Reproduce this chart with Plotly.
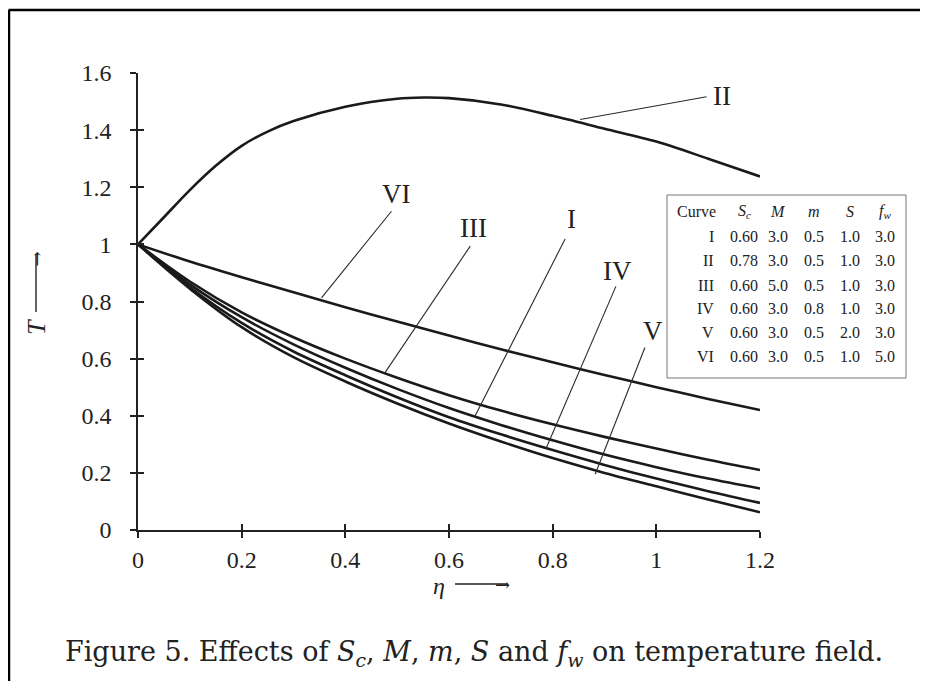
import plotly.graph_objects as go

# ---- data ----
eta = [0.0, 0.1, 0.2, 0.3, 0.4, 0.5, 0.6, 0.7, 0.8, 0.9, 1.0, 1.1, 1.2]
eta_II = [0.0, 0.05, 0.1, 0.15, 0.2, 0.25, 0.3, 0.4, 0.5, 0.55, 0.6, 0.7, 0.8, 0.9, 1.0, 1.1, 1.2]
T_II = [1.0, 1.095, 1.19, 1.275, 1.345, 1.395, 1.432, 1.482, 1.51, 1.514, 1.512, 1.49, 1.45, 1.405, 1.36, 1.30, 1.238]
T_VI = [1.0, 0.94, 0.885, 0.832, 0.78, 0.73, 0.681, 0.633, 0.587, 0.543, 0.50, 0.459, 0.42]
T_III = [1.0, 0.87, 0.762, 0.675, 0.60, 0.533, 0.472, 0.418, 0.37, 0.326, 0.285, 0.246, 0.21]
T_I = [1.0, 0.86, 0.745, 0.65, 0.568, 0.494, 0.427, 0.368, 0.314, 0.264, 0.22, 0.18, 0.145]
T_IV = [1.0, 0.85, 0.725, 0.625, 0.542, 0.465, 0.395, 0.335, 0.28, 0.228, 0.18, 0.136, 0.095]
T_V = [1.0, 0.845, 0.71, 0.605, 0.52, 0.443, 0.373, 0.31, 0.252, 0.20, 0.153, 0.107, 0.062]

x_ticks = [0, 0.2, 0.4, 0.6, 0.8, 1.0, 1.2]
x_tick_text = ["0", "0.2", "0.4", "0.6", "0.8", "1", "1.2"]
y_ticks = [0, 0.2, 0.4, 0.6, 0.8, 1.0, 1.2, 1.4, 1.6]
y_tick_text = ["0", "0.2", "0.4", "0.6", "0.8", "1", "1.2", "1.4", "1.6"]

table_header = ["Curve", "<i>S</i><sub><i>c</i></sub>", "<i>M</i>", "<i>m</i>", "<i>S</i>", "<i>f</i><sub><i>w</i></sub>"]
table_curves = ["I", "II", "III", "IV", "V", "VI"]
table_Sc = ["0.60", "0.78", "0.60", "0.60", "0.60", "0.60"]
table_M = ["3.0", "3.0", "5.0", "3.0", "3.0", "3.0"]
table_m = ["0.5", "0.5", "0.5", "0.8", "0.5", "0.5"]
table_S = ["1.0", "1.0", "1.0", "1.0", "2.0", "1.0"]
table_fw = ["3.0", "3.0", "3.0", "3.0", "3.0", "5.0"]

# curve labels: (name, label x, label y, leader start, leader end) in data units
curve_labels = [
    ("II", 1.105, 1.519, (1.097, 1.517), (0.853, 1.437)),
    ("VI", 0.499, 1.175, (0.489, 1.116), (0.354, 0.813)),
    ("III", 0.647, 1.058, (0.641, 0.994), (0.4765, 0.551)),
    ("I", 0.837, 1.089, (0.824, 1.019), (0.650, 0.398)),
    ("IV", 0.925, 0.908, (0.922, 0.853), (0.788, 0.289)),
    ("V", 0.993, 0.698, (0.978, 0.639), (0.882, 0.195)),
]

# page is offset by the 8px body margin; figure is sized to fill the rest
OFF = 8
W, H = 928 - OFF, 681 - OFF
L, R, T, B = 138, 760, 73, 530          # plot area in page pixels
SERIF = "Liberation Serif, DejaVu Serif, serif"
INK = "#222222"


def px(xp):
    return (xp - L) / (R - L)


def py(yp):
    return (B - yp) / (B - T)


fig = go.Figure()
line_style = dict(color="#1a1a1a", width=2.6, shape="spline", smoothing=0.9)
for name, xs, ys in [("II", eta_II, T_II), ("VI", eta, T_VI), ("III", eta, T_III),
                     ("I", eta, T_I), ("IV", eta, T_IV), ("V", eta, T_V)]:
    fig.add_trace(go.Scatter(x=xs, y=ys, mode="lines", name=name, line=line_style,
                             showlegend=False, hoverinfo="skip"))

# invisible trace on overlay axes (inside ticks -> crossing ticks)
fig.add_trace(go.Scatter(x=[0], y=[0], xaxis="x2", yaxis="y2", mode="markers",
                         marker=dict(opacity=0), showlegend=False, hoverinfo="skip"))

axis_common = dict(showgrid=False, zeroline=False, showline=True, linecolor=INK,
                   linewidth=1.6, ticks="outside", ticklen=6, tickwidth=1.6,
                   tickcolor=INK, tickfont=dict(family=SERIF, size=24, color=INK))

fig.update_layout(
    width=W, height=H,
    margin=dict(l=L - OFF, r=928 - R, t=T - OFF, b=681 - B, pad=0),
    paper_bgcolor="white", plot_bgcolor="white",
    xaxis=dict(range=[0, 1.2], tickvals=x_ticks, ticktext=x_tick_text,
               ticklabelstandoff=1, **axis_common),
    yaxis=dict(range=[0, 1.6], tickvals=y_ticks, ticktext=y_tick_text,
               ticklabelstandoff=14, **axis_common),
    xaxis2=dict(range=[0, 1.2], overlaying="x", side="bottom", tickvals=x_ticks,
                showticklabels=False, showgrid=False, zeroline=False, showline=False,
                ticks="inside", ticklen=6, tickwidth=1.6, tickcolor=INK),
    yaxis2=dict(range=[0, 1.6], overlaying="y", side="left", tickvals=y_ticks,
                showticklabels=False, showgrid=False, zeroline=False, showline=False,
                ticks="inside", ticklen=6, tickwidth=1.6, tickcolor=INK),
)

shapes = []
annotations = []

# leader lines + labels
for name, lx, ly, (sx, sy), (ex, ey) in curve_labels:
    shapes.append(dict(type="line", xref="x", yref="y", x0=sx, y0=sy, x1=ex, y1=ey,
                       line=dict(color="#2a2a2a", width=1.1)))
    anchor = "left" if name == "II" else "center"
    annotations.append(dict(x=lx, y=ly, xref="x", yref="y", text=name, showarrow=False,
                            xanchor=anchor, yanchor="middle",
                            font=dict(family=SERIF, size=27, color=INK)))

# outer frame (top + left)
shapes.append(dict(type="line", xref="paper", yref="paper", x0=px(OFF + 0.5), y0=py(10),
                   x1=px(928), y1=py(10), line=dict(color="black", width=2.5)))
shapes.append(dict(type="line", xref="paper", yref="paper", x0=px(OFF + 1), y0=py(10),
                   x1=px(OFF + 1), y1=py(681), line=dict(color="black", width=2.5)))

# table box
shapes.append(dict(type="rect", xref="paper", yref="paper", x0=px(667), y0=py(195),
                   x1=px(906), y1=py(378), line=dict(color="#777777", width=1),
                   fillcolor="white", layer="above"))

col_x = [None, 744, 778, 814, 850, 885]
row_y = [236.7, 260.7, 285, 308.3, 332.7, 356.7]
tfont = dict(family=SERIF, size=16, color=INK)
# header
annotations.append(dict(x=px(696), y=py(211.7), xref="paper", yref="paper",
                        text=table_header[0], showarrow=False, xanchor="center",
                        yanchor="middle", font=tfont))
for j in range(1, 6):
    annotations.append(dict(x=px(col_x[j]), y=py(211.7), xref="paper", yref="paper",
                            text=table_header[j], showarrow=False, xanchor="center",
                            yanchor="middle", font=tfont))
cols = [table_Sc, table_M, table_m, table_S, table_fw]
for i, cname in enumerate(table_curves):
    annotations.append(dict(x=px(716), y=py(row_y[i]), xref="paper", yref="paper",
                            text=cname, showarrow=False, xanchor="right",
                            yanchor="middle", font=tfont))
    for j, col in enumerate(cols):
        annotations.append(dict(x=px(col_x[j + 1]), y=py(row_y[i]), xref="paper",
                                yref="paper", text=col[i], showarrow=False,
                                xanchor="center", yanchor="middle", font=tfont))

# x-axis title: eta with long arrow
annotations.append(dict(x=px(447), y=py(586), xref="paper", yref="paper",
                        text="<i>η</i>", showarrow=False, xanchor="right",
                        yanchor="middle", font=dict(family=SERIF, size=24, color=INK)))
shapes.append(dict(type="line", xref="paper", yref="paper", x0=px(455), y0=py(584),
                   x1=px(508), y1=py(584), line=dict(color=INK, width=1.4)))
annotations.append(dict(x=px(512), y=py(584), xref="paper", yref="paper",
                        text="→", showarrow=False, xanchor="right", yanchor="middle",
                        font=dict(family="DejaVu Serif", size=18, color=INK)))

# y-axis title: T with long arrow (rotated)
annotations.append(dict(x=px(36), y=py(327), xref="paper", yref="paper",
                        text="<i>T</i>", showarrow=False, textangle=-90,
                        xanchor="center", yanchor="middle",
                        font=dict(family=SERIF, size=26, color=INK)))
shapes.append(dict(type="line", xref="paper", yref="paper", x0=px(36), y0=py(312),
                   x1=px(36), y1=py(254), line=dict(color=INK, width=1.4)))
annotations.append(dict(x=px(36), y=py(250), xref="paper", yref="paper",
                        text="→", showarrow=False, textangle=-90, xanchor="center",
                        yanchor="top", font=dict(family="DejaVu Serif", size=18, color=INK)))

# caption
annotations.append(dict(x=px(474), y=py(653), xref="paper", yref="paper",
                        text=("Figure 5. Effects of <i>S</i><sub><i>c</i></sub>, <i>M</i>, "
                              "<i>m</i>, <i>S</i> and <i>f</i><sub><i>w</i></sub> on "
                              "temperature field."),
                        showarrow=False, xanchor="center", yanchor="middle",
                        font=dict(family="DejaVu Serif", size=27, color=INK)))

fig.update_layout(shapes=shapes, annotations=annotations)
fig.write_html("out.html")
